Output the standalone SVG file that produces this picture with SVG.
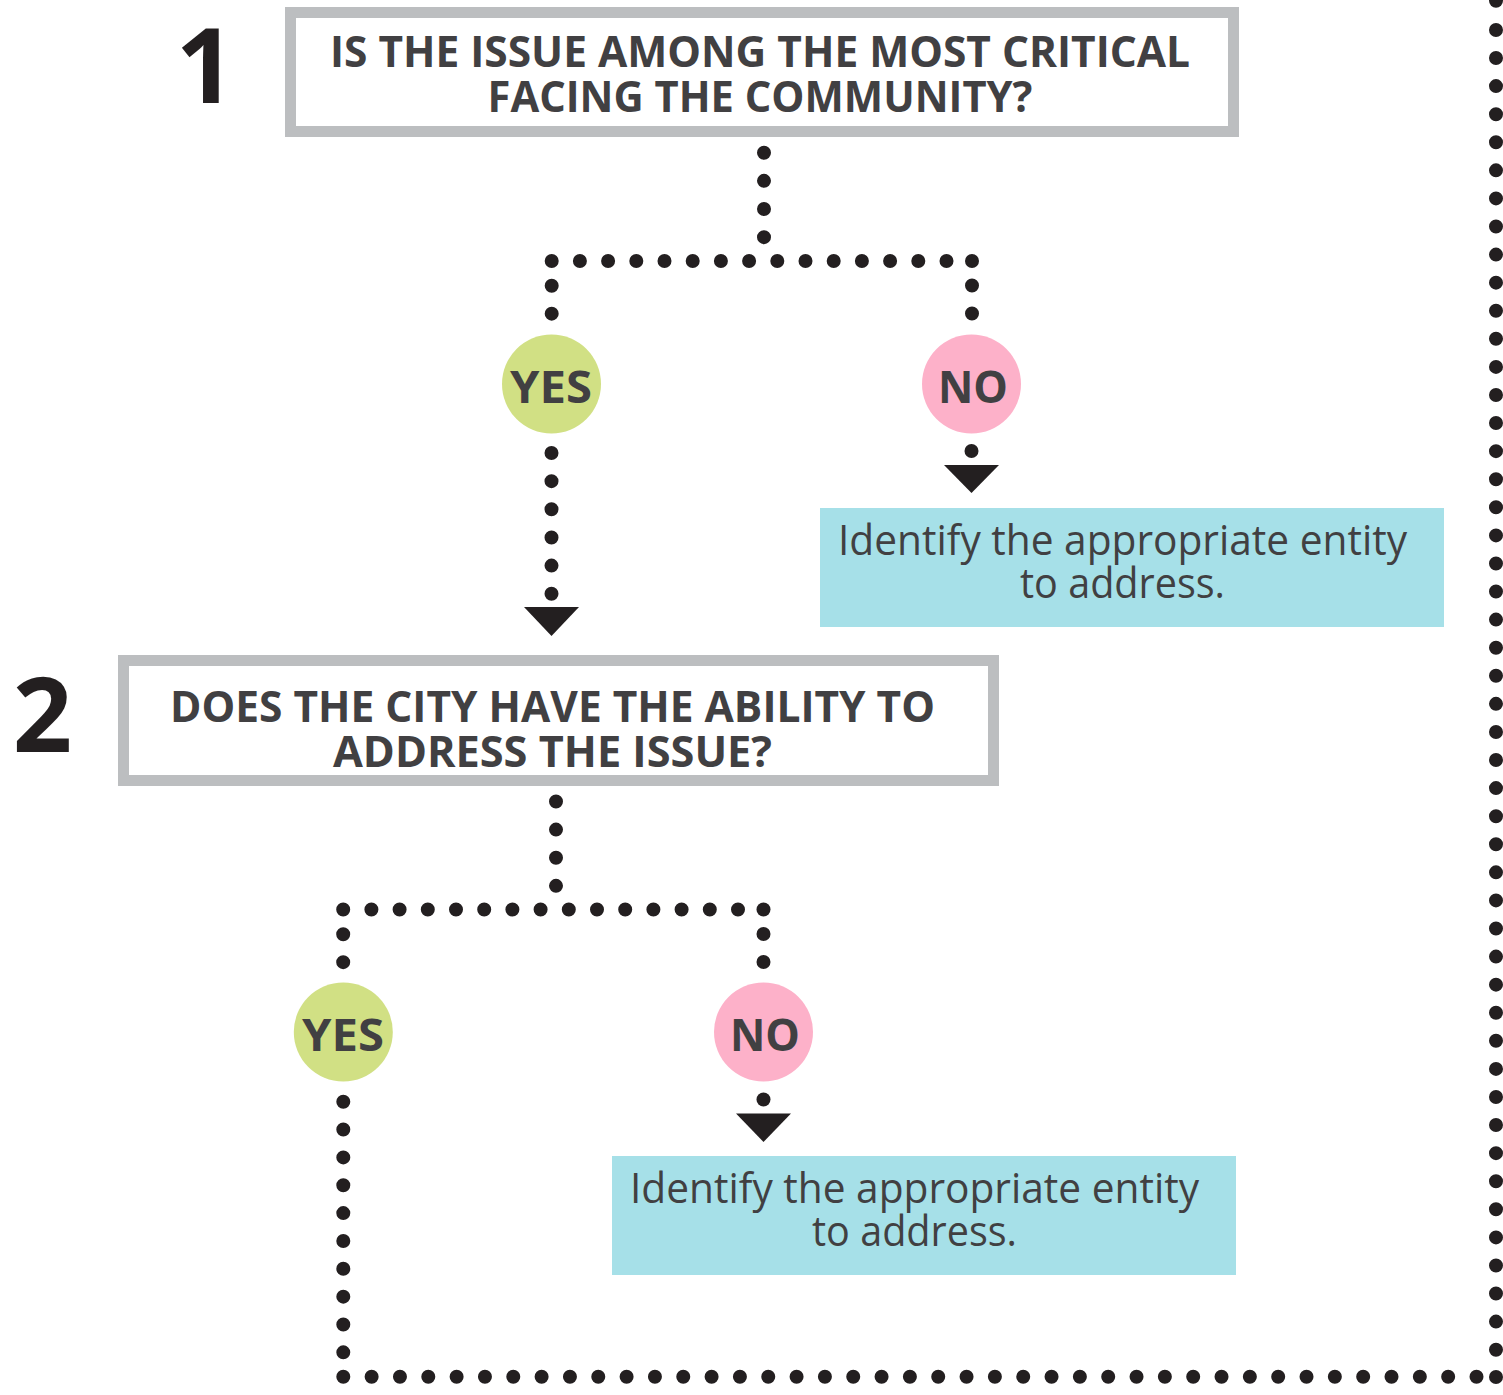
<svg xmlns="http://www.w3.org/2000/svg" width="1503" height="1395" viewBox="0 0 1503 1395">
<style>
  .qbox { fill: #ffffff; stroke: #bcbec0; stroke-width: 11; }
  .qtext { font-family: "Open Sans", "Liberation Sans", sans-serif; font-weight: 700; font-size: 43px; fill: #414042; text-anchor: middle; }
  .num { font-family: "Open Sans", "Liberation Sans", sans-serif; font-weight: 700; font-size: 104px; fill: #231f20; text-anchor: middle; }
  .yes { fill: #d1e084; }
  .no { fill: #fdb1c9; }
  .ctext { font-family: "Open Sans", "Liberation Sans", sans-serif; font-weight: 700; font-size: 45px; fill: #414042; text-anchor: middle; }
  .abox { fill: #a6e0e8; }
  .atext { font-family: "Open Sans", "Liberation Sans", sans-serif; font-weight: 400; font-size: 42px; fill: #414042; text-anchor: middle; }
  .dots { fill: none; stroke: #231f20; stroke-width: 14; stroke-linecap: round; }
  .dot { fill: #231f20; }
  .head { fill: #231f20; }
</style>

<g id="connectors">
  <!-- level 1 -->
  <path class="dots" d="M764 152.7 V237.4" stroke-dasharray="0 28.15"/>
  <path class="dots" d="M551.7 261 H947.1" stroke-dasharray="0 28.2"/>
  <circle class="dot" cx="972" cy="261" r="7"/>
  <path class="dots" d="M551.7 285.7 V313.8" stroke-dasharray="0 27.95"/>
  <path class="dots" d="M972 285.5 V313.6" stroke-dasharray="0 27.95"/>
  <path class="dots" d="M551.5 453 V594.1" stroke-dasharray="0 28.15"/>
  <polygon class="head" points="524,607 579,607 551.5,636"/>
  <circle class="dot" cx="971.5" cy="451" r="7"/>
  <polygon class="head" points="944,465 999,465 971.5,493"/>

  <!-- level 2 -->
  <path class="dots" d="M556 801.5 V886.1" stroke-dasharray="0 28.12"/>
  <path class="dots" d="M343.2 909.5 H738.6" stroke-dasharray="0 28.2"/>
  <circle class="dot" cx="763.5" cy="909.5" r="7"/>
  <path class="dots" d="M343.2 934.2 V962.3" stroke-dasharray="0 27.95"/>
  <path class="dots" d="M763.5 934 V962.1" stroke-dasharray="0 27.95"/>
  <circle class="dot" cx="763.5" cy="1099.5" r="7"/>
  <polygon class="head" points="736,1113.5 791,1113.5 763.5,1142"/>

  <!-- return loop -->
  <path class="dots" d="M343.3 1101.7 V1352.8" stroke-dasharray="0 27.85"/>
  <path class="dots" d="M343.3 1376.8 H1478.1" stroke-dasharray="0 28.33"/>
  <circle class="dot" cx="1496" cy="1377" r="7"/>
  <path class="dots" d="M1496 1349.7 V28.2" stroke-dasharray="0 28.08"/>
  <circle class="dot" cx="1496" cy="0.8" r="7"/>
</g>

<g id="q1">
  <rect class="qbox" x="290.5" y="12.5" width="943" height="119"/>
  <text class="qtext" x="760" y="66.7" textLength="860" lengthAdjust="spacingAndGlyphs">IS THE ISSUE AMONG THE MOST CRITICAL</text>
  <text class="qtext" x="760" y="111.7" textLength="545" lengthAdjust="spacingAndGlyphs">FACING THE COMMUNITY?</text>
</g>
<g id="num1"><text class="num" x="205.5" y="103">1</text></g>

<g id="yes1">
  <circle class="yes" cx="551.5" cy="384" r="49.5"/>
  <text class="ctext" x="551" y="402.7" textLength="82" lengthAdjust="spacingAndGlyphs">YES</text>
</g>
<g id="no1">
  <circle class="no" cx="971.5" cy="384" r="49.5"/>
  <text class="ctext" x="973" y="402.5" textLength="70" lengthAdjust="spacingAndGlyphs">NO</text>
</g>
<g id="action1">
  <rect class="abox" x="820" y="508" width="624" height="119"/>
  <text class="atext" x="1122.5" y="554.5" textLength="569" lengthAdjust="spacingAndGlyphs">Identify the appropriate entity</text>
  <text class="atext" x="1122.5" y="598" textLength="205" lengthAdjust="spacingAndGlyphs">to address.</text>
</g>

<g id="q2">
  <rect class="qbox" x="123.5" y="660.5" width="870" height="120"/>
  <text class="qtext" x="552.5" y="722.3" textLength="765" lengthAdjust="spacingAndGlyphs">DOES THE CITY HAVE THE ABILITY TO</text>
  <text class="qtext" x="552.5" y="767.3" textLength="439" lengthAdjust="spacingAndGlyphs">ADDRESS THE ISSUE?</text>
</g>
<g id="num2"><text class="num" x="42.5" y="752">2</text></g>

<g id="yes2">
  <circle class="yes" cx="343.3" cy="1032" r="49.5"/>
  <text class="ctext" x="343" y="1050.7" textLength="82" lengthAdjust="spacingAndGlyphs">YES</text>
</g>
<g id="no2">
  <circle class="no" cx="763.5" cy="1032" r="49.5"/>
  <text class="ctext" x="765" y="1050.5" textLength="70" lengthAdjust="spacingAndGlyphs">NO</text>
</g>
<g id="action2">
  <rect class="abox" x="612" y="1156" width="624" height="119"/>
  <text class="atext" x="914.5" y="1202.5" textLength="569" lengthAdjust="spacingAndGlyphs">Identify the appropriate entity</text>
  <text class="atext" x="914.5" y="1246" textLength="205" lengthAdjust="spacingAndGlyphs">to address.</text>
</g>
</svg>
